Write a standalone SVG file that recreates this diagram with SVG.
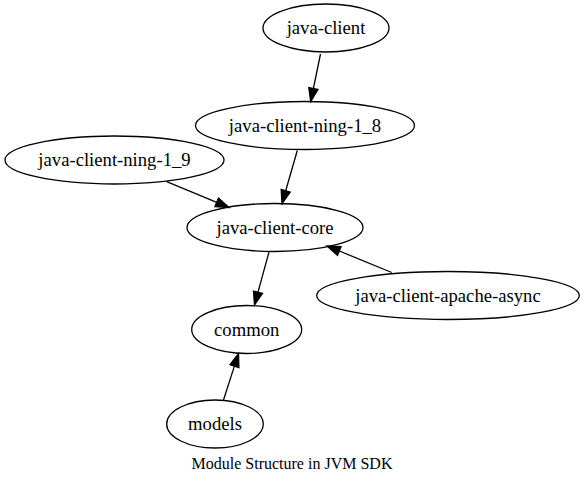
<svg xmlns="http://www.w3.org/2000/svg" width="584" height="480" viewBox="0 0 584 480">
<style>
.node ellipse{fill:none;stroke:#000;stroke-width:1.3}
.node text{text-anchor:middle;fill:#000}
.edge path{fill:none;stroke:#000;stroke-width:1.3}
.edge polygon{fill:#000;stroke:#000;stroke-width:1.3}
.caption{text-anchor:middle;fill:#000}
</style>
<rect width="584" height="480" fill="#fff"/>
<g id="edges" class="edge">
<path d="M320.5,54 L313.4,88.5"/><polygon points="318,89.4 310.7,101.5 308.8,87.5"/>
<path d="M297.3,150.5 L285.7,190.7"/><polygon points="290.2,192 282,203.5 281.2,189.4"/>
<path d="M166.7,181.7 L216.7,202.4"/><polygon points="214.9,206.7 229,207.5 218.5,198.1"/>
<path d="M391.7,272.5 L339.3,251"/><polygon points="341.1,246.7 327,246 337.5,255.4"/>
<path d="M269,252 L258,292.2"/><polygon points="262.5,293.4 254.5,305 253.5,291"/>
<path d="M223.5,400 L234.4,366.1"/><polygon points="238.9,367.6 238.5,353.5 230,364.7"/>
</g>
<g id="java-client" class="node"><ellipse cx="326" cy="28" rx="63" ry="24"/><text x="326" y="34" font-family="Liberation Serif" font-size="18.67">java-client</text></g>
<g id="java-client-ning-1_8" class="node"><ellipse cx="305" cy="125.5" rx="109.5" ry="24"/><text x="305" y="131.5" font-family="Liberation Serif" font-size="18.67">java-client-ning-1_8</text></g>
<g id="java-client-ning-1_9" class="node"><ellipse cx="114.5" cy="160" rx="109.5" ry="24"/><text x="114.5" y="166" font-family="Liberation Serif" font-size="18.67">java-client-ning-1_9</text></g>
<g id="java-client-core" class="node"><ellipse cx="275" cy="227.5" rx="88" ry="24"/><text x="275" y="233.5" font-family="Liberation Serif" font-size="18.67">java-client-core</text></g>
<g id="java-client-apache-async" class="node"><ellipse cx="448" cy="295.5" rx="131.3" ry="24"/><text x="448" y="301.5" font-family="Liberation Serif" font-size="18.67">java-client-apache-async</text></g>
<g id="common" class="node"><ellipse cx="246.7" cy="329.5" rx="55" ry="24"/><text x="246.7" y="335.5" font-family="Liberation Serif" font-size="18.67">common</text></g>
<g id="models" class="node"><ellipse cx="215" cy="424" rx="48.3" ry="24"/><text x="215" y="430" font-family="Liberation Serif" font-size="18.67">models</text></g>
<text class="caption" x="292" y="469" font-family="Liberation Serif" font-size="16">Module Structure in JVM SDK</text>
</svg>
